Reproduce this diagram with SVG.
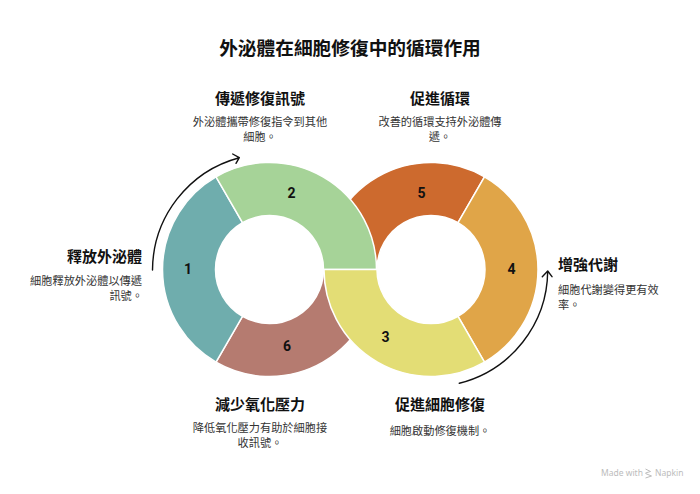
<svg xmlns="http://www.w3.org/2000/svg" width="700" height="494" viewBox="0 0 700 494">
<style>
text{font-family:"Noto Sans CJK TC","Noto Sans CJK SC",sans-serif;fill:#111}
.t{font-size:18.7px;font-weight:700;text-anchor:middle}
.h{font-size:15px;font-weight:700}
.d{font-size:11.2px;fill:#333}
.m{text-anchor:middle}.e{text-anchor:end}.s{text-anchor:start}
.n{font-family:Roboto,"Liberation Sans",sans-serif;font-size:14px;font-weight:700;text-anchor:middle}
.seg{stroke:#fff;stroke-width:1.5}
.arr{fill:none;stroke:#111;stroke-width:1.4;stroke-linecap:round;stroke-linejoin:round}
.w{font-family:"Noto Sans","Liberation Sans",sans-serif;font-size:8.5px;fill:#bcbcbc}
</style>
<rect width="700" height="494" fill="#fff"/>
<text class="t" x="350" y="55">外泌體在細胞修復中的循環作用</text>
<g id="node-5"><path class="seg" fill="#CD6A2E" d="M324 269.5A107 107 0 0 1 484.5 176.84L458 222.73A54 54 0 0 0 377 269.5Z"/><text class="n" x="421.5" y="198">5</text></g>
<g id="node-6"><path class="seg" fill="#B57B70" d="M216 362.16A107 107 0 0 0 376.5 269.5L323.5 269.5A54 54 0 0 1 242.5 316.27Z"/><text class="n" x="287" y="351">6</text></g>
<g id="node-1"><path class="seg" fill="#6FADAD" d="M216 176.84A107 107 0 0 0 216 362.16L242.5 316.27A54 54 0 0 1 242.5 222.73Z"/><text class="n" x="188" y="274">1</text></g>
<g id="node-4"><path class="seg" fill="#E0A548" d="M484.5 176.84A107 107 0 0 1 484.5 362.16L458 316.27A54 54 0 0 0 458 222.73Z"/><text class="n" x="511.5" y="274">4</text></g>
<g id="node-2"><path class="seg" fill="#A6D398" d="M216 176.84A107 107 0 0 1 376.5 269.5L323.5 269.5A54 54 0 0 0 242.5 222.73Z"/><text class="n" x="291.5" y="198">2</text></g>
<g id="node-3"><path class="seg" fill="#E3DD75" d="M324 269.5A107 107 0 0 0 484.5 362.16L458 316.27A54 54 0 0 1 377 269.5Z"/><text class="n" x="385.5" y="342">3</text></g>
<g id="connectors">
<path class="arr" d="M152.5 270A117 117 0 0 1 239.3 157.7M232.7 154L239.3 157.7L236 163.3"/>
<path class="arr" d="M459.3 383.3A117 117 0 0 0 547.7 271M542.3 276.7L547.7 271L552 276.7"/>
</g>
<g id="label-1"><text class="h e" x="142" y="262">釋放外泌體</text><text class="d e" x="142" y="285">細胞釋放外泌體以傳遞</text><text class="d e" x="143" y="300">訊號。</text></g>
<g id="label-2"><text class="h m" x="260" y="104">傳遞修復訊號</text><text class="d m" x="260" y="126">外泌體攜帶修復指令到其他</text><text class="d m" x="260" y="141">細胞。</text></g>
<g id="label-5"><text class="h m" x="440" y="104">促進循環</text><text class="d m" x="440" y="126">改善的循環支持外泌體傳</text><text class="d m" x="440" y="141">遞。</text></g>
<g id="label-4"><text class="h s" x="558" y="270">增強代謝</text><text class="d s" x="558" y="294">細胞代謝變得更有效</text><text class="d s" x="558" y="309">率。</text></g>
<g id="label-6"><text class="h m" x="260" y="410">減少氧化壓力</text><text class="d m" x="260" y="432">降低氧化壓力有助於細胞接</text><text class="d m" x="260" y="447">收訊號。</text></g>
<g id="label-3"><text class="h m" x="440" y="410">促進細胞修復</text><text class="d m" x="440" y="435">細胞啟動修復機制。</text></g>
<g id="watermark"><text class="w" x="601" y="476">Made with</text><path d="M645.5 469L650.5 471.5L645.5 473M645.5 473.5L651.5 476L645.5 478" fill="none" stroke="#bcbcbc" stroke-width="1"/><text class="w" x="655" y="476">Napkin</text></g>
</svg>
